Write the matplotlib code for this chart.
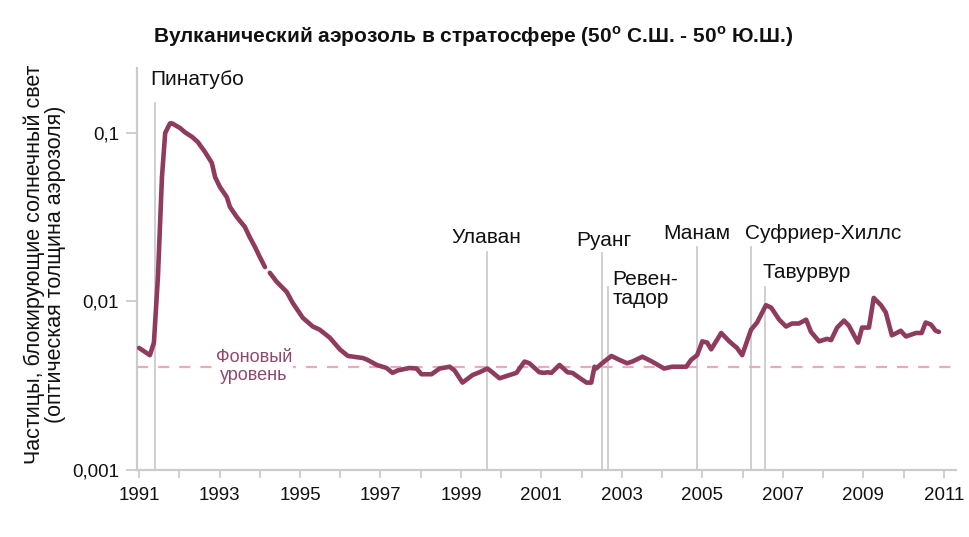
import numpy as np
import matplotlib
matplotlib.use("Agg")
import matplotlib.pyplot as plt
from matplotlib.ticker import FixedLocator, NullFormatter

plt.rcParams['font.family'] = ['Liberation Sans', 'DejaVu Sans']
plt.rcParams['mathtext.fontset'] = 'custom'
plt.rcParams['mathtext.bf'] = 'Liberation Sans:bold'
plt.rcParams['mathtext.rm'] = 'Liberation Sans'

# Данные: оптическая толщина стратосферного аэрозоля (50 с.ш. - 50 ю.ш.)
years = [1991.00, 1991.27, 1991.37, 1991.47, 1991.57, 1991.65, 1991.77, 1991.82,
         1992.02, 1992.14, 1992.32, 1992.46, 1992.64, 1992.81, 1992.89, 1993.01,
         1993.18, 1993.26, 1993.43, 1993.63, 1993.75, 1993.88, 1994.00, 1994.13,
         1994.19, 1994.25, 1994.42, 1994.67, 1994.82, 1995.07, 1995.32, 1995.49,
         1995.74, 1995.99, 1996.19, 1996.56, 1996.68, 1996.91, 1997.15, 1997.30,
         1997.43, 1997.72, 1997.90, 1998.02, 1998.27, 1998.47, 1998.72, 1998.84,
         1999.04, 1999.29, 1999.46, 1999.66, 1999.78, 1999.96, 2000.21, 2000.38,
         2000.58, 2000.70, 2000.95, 2001.07, 2001.15, 2001.25, 2001.45, 2001.65,
         2001.77, 2001.89, 2002.12, 2002.24, 2002.32, 2002.36, 2002.51, 2002.74,
         2002.94, 2003.13, 2003.26, 2003.51, 2003.75, 2004.05, 2004.25, 2004.60,
         2004.72, 2004.87, 2005.00, 2005.12, 2005.22, 2005.47, 2005.67, 2005.86,
         2005.99, 2006.21, 2006.36, 2006.58, 2006.71, 2006.91, 2007.08, 2007.23,
         2007.40, 2007.58, 2007.70, 2007.90, 2008.10, 2008.20, 2008.35, 2008.52,
         2008.64, 2008.77, 2008.87, 2008.97, 2009.14, 2009.26, 2009.44, 2009.56,
         2009.71, 2009.83, 2009.93, 2010.06, 2010.31, 2010.45, 2010.55, 2010.68,
         2010.80, 2010.88]
aod = [0.0053, 0.0048, 0.0057, 0.0140, 0.0548, 0.100, 0.114, 0.114,
       0.107, 0.101, 0.0947, 0.0884, 0.0771, 0.0664, 0.0548, 0.0478,
       0.0417, 0.0364, 0.0317, 0.0277, 0.0241, 0.0211, 0.0184, 0.0160,
       np.nan, 0.0148, 0.0131, 0.0114, 0.0098, 0.0080, 0.0071, 0.0068,
       0.0061, 0.0052, 0.00475, 0.00462, 0.0045, 0.0042, 0.00403, 0.00377,
       0.0039, 0.00403, 0.0040, 0.0037, 0.0037, 0.0040, 0.0041, 0.0039,
       0.0033, 0.00366, 0.0038, 0.0040, 0.0038, 0.0035, 0.00366, 0.00377,
       0.0044, 0.0043, 0.0038, 0.00377, 0.0038, 0.00377, 0.0042, 0.0038,
       0.00377, 0.0036, 0.0033, 0.0033, 0.0041, 0.0040, 0.0043, 0.00475,
       0.0045, 0.0043, 0.0044, 0.0047, 0.0044, 0.0040, 0.0041, 0.0041,
       0.0045, 0.0048, 0.0058, 0.0057, 0.0052, 0.0065, 0.0058, 0.0053,
       0.0048, 0.0068, 0.0075, 0.0095, 0.0092, 0.0078, 0.0071, 0.0074,
       0.0074, 0.0078, 0.0066, 0.0058, 0.0060, 0.0059, 0.0070, 0.0077,
       0.0072, 0.0063, 0.0057, 0.0070, 0.0070, 0.0105, 0.0095, 0.0086,
       0.0063, 0.0065, 0.0067, 0.0062, 0.0065, 0.0065, 0.0075, 0.0073,
       0.0067, 0.0066]

background = 0.0041

volcanoes = ['Пинатубо', 'Улаван', 'Руанг', 'Ревен-\nтадор', 'Манам', 'Суфриер-Хиллс', 'Тавурвур']
eruption_years = [1991.40, 1999.64, 2002.51, 2002.66, 2004.87, 2006.21, 2006.56]
line_tops = [0.151, 0.0197, 0.0194, 0.0122, 0.021, 0.021, 0.0122]

# положение подписей (ha, dx, dy в пикселях)
label_style = [('left', -5, 23), ('center', 0, 14), ('center', 2, 12), ('left', 4, -2),
               ('center', 0, 14), ('left', -6, 14), ('left', -3, 14)]

tick_years = list(range(1991, 2012, 2))
y_ticks = [0.001, 0.01, 0.1]
y_labels = ['0,001', '0,01', '0,1']

curve_color = '#8E3B5E'
grey = '#CBCBCB'

fig = plt.figure(figsize=(9.69, 5.37), dpi=100)
ax = fig.add_axes([0.1414, 0.1248, 0.845, 0.7486])
ax.set_yscale('log')
ax.set_xlim(1990.95, 2011.3)
ax.set_ylim(0.001, 0.243)

for i, name in enumerate(volcanoes):
    ax.plot([eruption_years[i], eruption_years[i]], [0.001, line_tops[i]],
            color=grey, lw=1.3, zorder=1)
    ha, dx, dy = label_style[i]
    ax.annotate(name, (eruption_years[i], line_tops[i]), xytext=(dx * 0.72, dy * 0.72),
                textcoords='offset points', ha=ha, va='center', fontsize=15,
                color='#111111', linespacing=1.0)

ax.axhline(background, color='#EFA6C0', lw=1.6, ls=(0, (5, 4.5)), zorder=2)
ax.text(1993.85, background, 'Фоновый\nуровень', ha='center', va='center',
        fontsize=13, color='#8E4A6C', linespacing=1.05, zorder=3,
        bbox=dict(facecolor='white', edgecolor='none', pad=1))

ax.plot(years, aod, color=curve_color, lw=3.3, solid_capstyle='round',
        solid_joinstyle='round', zorder=4)

for s in ['top', 'right']:
    ax.spines[s].set_visible(False)
for s in ['left', 'bottom']:
    ax.spines[s].set_color(grey)
    ax.spines[s].set_linewidth(1.6)

ax.yaxis.set_major_locator(FixedLocator(y_ticks))
ax.set_yticklabels(y_labels)
ax.yaxis.set_minor_formatter(NullFormatter())
ax.yaxis.set_minor_locator(FixedLocator([]))
ax.set_xticks(tick_years)
ax.set_xticklabels([str(y) for y in tick_years])
ax.xaxis.set_minor_locator(FixedLocator(list(range(1991, 2012))))
ax.tick_params(axis='both', which='both', color=grey, width=1.3, labelsize=13.5,
               labelcolor='#111111')
ax.tick_params(axis='y', length=8, pad=5)
ax.tick_params(axis='x', which='major', length=6, pad=6)
ax.tick_params(axis='x', which='minor', length=6)

fig.text(0.488, 0.931, r'Вулканический аэрозоль в стратосфере (50$^\mathbf{o}$ С.Ш. - 50$^\mathbf{o}$ Ю.Ш.)',
         ha='center', va='center', fontsize=15, fontweight='bold', color='#111111')
fig.text(0.046, 0.508, 'Частицы, блокирующие солнечный свет\n(оптическая толщина аэрозоля)',
         rotation=90, ha='center', va='center', fontsize=15.5, color='#111111',
         linespacing=1.0, multialignment='center')

fig.savefig('out.png', dpi=100)
